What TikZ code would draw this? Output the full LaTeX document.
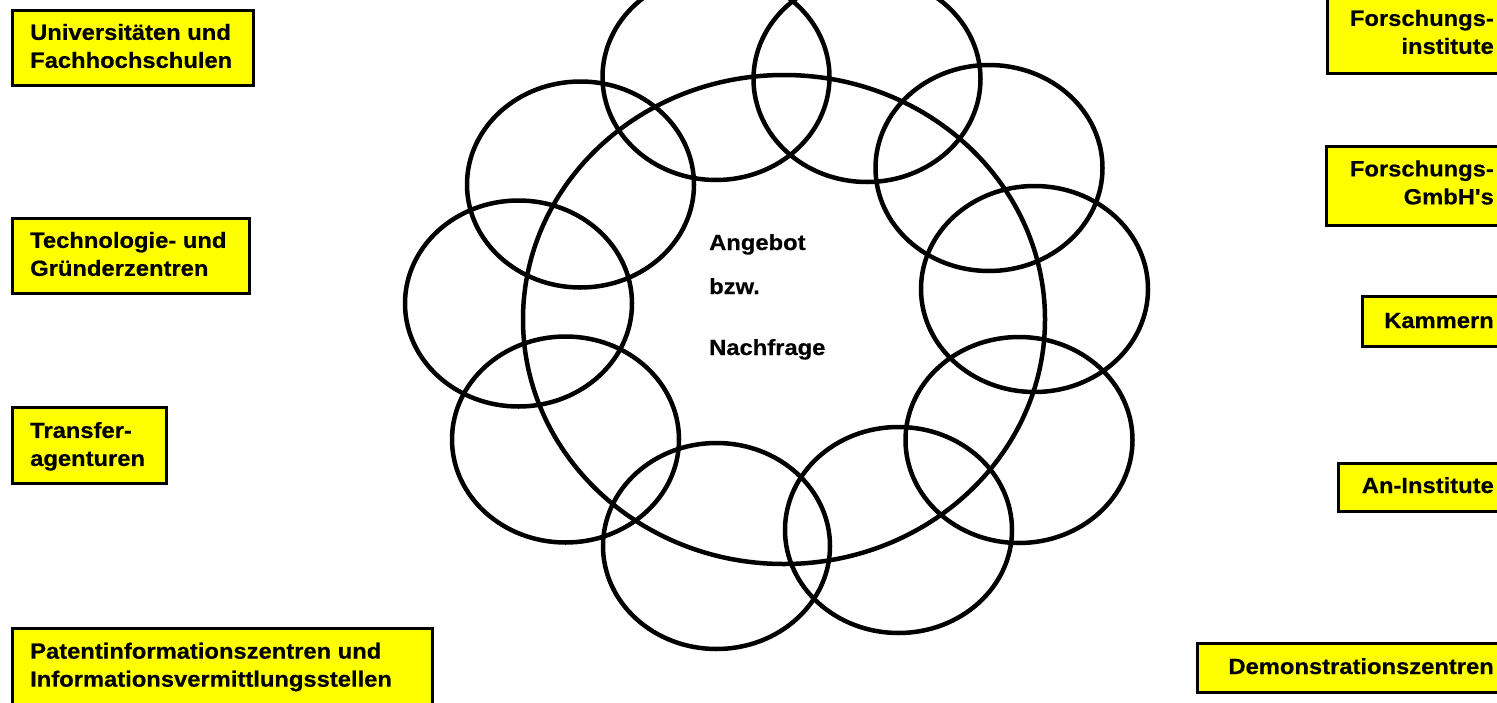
\documentclass[tikz,border=0pt]{standalone}
\usepackage{fontspec}
\newfontfamily\lsans{Liberation Sans}[FakeStretch=1.08,BoldFeatures={FakeBold=0.5}]
\definecolor{boxyellow}{RGB}{255,255,0}
\begin{document}
\begin{tikzpicture}[x=1pt,y=-1pt,
  ring/.style={draw=black,line width=4.5pt},
  ybox/.style={draw=black,fill=boxyellow,line width=3pt,inner sep=0pt,anchor=north west},
  lbl/.style={font=\lsans\bfseries\fontsize{22}{28}\selectfont,inner sep=0pt,text=black}]
\useasboundingbox (0,0) rectangle (1497,702);
\clip (0,0) rectangle (1497,702);
% ellipses
\draw[ring] (784,319.5) ellipse [x radius=261pt, y radius=244.5pt];
\draw[ring] (716,77) ellipse [x radius=113.5pt, y radius=103pt];
\draw[ring] (867,79) ellipse [x radius=113.5pt, y radius=103pt];
\draw[ring] (580.5,184.5) ellipse [x radius=113.5pt, y radius=103pt];
\draw[ring] (989,168) ellipse [x radius=113.5pt, y radius=103pt];
\draw[ring] (518.5,303.5) ellipse [x radius=113.5pt, y radius=103pt];
\draw[ring] (1034.5,289) ellipse [x radius=113.5pt, y radius=103pt];
\draw[ring] (565.5,439.5) ellipse [x radius=113.5pt, y radius=103pt];
\draw[ring] (1019,440) ellipse [x radius=113.5pt, y radius=103pt];
\draw[ring] (716.5,546) ellipse [x radius=113.5pt, y radius=103pt];
\draw[ring] (898.5,530) ellipse [x radius=113.5pt, y radius=103pt];
% centre text
\node[lbl,anchor=base west] (ang) at (709,250) {Angebot};
\node[lbl,anchor=base west] (bzw) at (709,294) {bzw.};
\node[lbl,anchor=base west] (nach) at (709,355) {Nachfrage};
% left boxes
\node[ybox,minimum width=241pt,minimum height=75pt] (b1) at (10.5,8.5) {};
\node[lbl,anchor=west,align=left] (t1) at (30,46) {Universitäten und\\Fachhochschulen};
\node[ybox,minimum width=237pt,minimum height=75pt] (b2) at (10.5,216.5) {};
\node[lbl,anchor=west,align=left] (t2) at (30,254) {Technologie- und\\Gründerzentren};
\node[ybox,minimum width=154pt,minimum height=76pt] (b3) at (10.5,405.5) {};
\node[lbl,anchor=west,align=left] (t3) at (30,446.3) {Transfer-\\agenturen};
\node[ybox,minimum width=420pt,minimum height=100pt] (b4) at (10.5,626.5) {};
\node[lbl,anchor=west,align=left] (t4) at (30,667) {Patentinformationszentren und\\Informationsvermittlungsstellen};
% right boxes
\node[ybox,minimum width=200pt,minimum height=91.5pt] (b5) at (1325.5,-20) {};
\node[lbl,anchor=east,align=right] (t5) at (1494,32) {Forschungs-\\institute};
\node[ybox,minimum width=200pt,minimum height=79pt] (b6) at (1324.5,144.5) {};
\node[lbl,anchor=east,align=right] (t6) at (1494,182.5) {Forschungs-\\GmbH's};
\node[ybox,minimum width=200pt,minimum height=50pt] (b7) at (1360.5,294.5) {};
\node[lbl,anchor=base east] (t7) at (1494,328) {Kammern};
\node[ybox,minimum width=200pt,minimum height=48pt] (b8) at (1336.5,461.5) {};
\node[lbl,anchor=base east] (t8) at (1494,493) {An-Institute};
\node[ybox,minimum width=330pt,minimum height=49pt] (b9) at (1195.5,641.5) {};
\node[lbl,anchor=base east] (t9) at (1494,674) {Demonstrationszentren};
\end{tikzpicture}
\end{document}
